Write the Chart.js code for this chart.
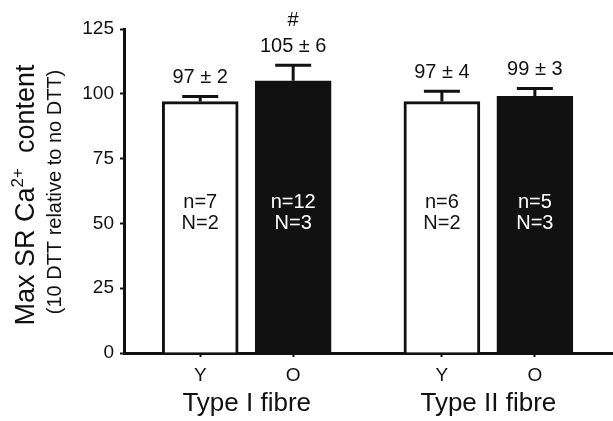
<!DOCTYPE html>
<html>
<head>
<meta charset="utf-8">
<script src="https://cdn.jsdelivr.net/npm/chart.js@4.4.1/dist/chart.umd.min.js"></script>
<style>
  body { margin: 0; background: #fff; }
</style>
</head>
<body>
<canvas id="chart" width="613" height="421"></canvas>
<script>
// --------- Valeurs -----------------------------
const barLabels = ["Y", "O", "Y", "O"];
const barPos = [0, 1, 2.6, 3.6];
const means = [97, 105, 97, 99];
const sems = [2, 6, 4, 3];
const marks = ["", "#", "", ""];
const nCells = ["n=7", "n=12", "n=6", "n=5"];
const nAnimals = ["N=2", "N=3", "N=2", "N=3"];
const groups = ["Type I fibre", "Type II fibre"];
const groupPos = [0.5, 3.1];
const yTicks = [0, 25, 50, 75, 100, 125];

const INK = "#111";
const FAMILY = "'Liberation Sans', Arial, sans-serif";
const fills = ["#ffffff", INK, "#ffffff", INK];

// --------- Barres d'erreur, textes et titres ----------
const annotations = {
    id: "annotations",
    afterDatasetsDraw(chart) {
        const ctx = chart.ctx;
        const x = chart.scales.x;
        const y = chart.scales.y;
        ctx.save();
        ctx.strokeStyle = INK;
        ctx.lineWidth = 3;
        ctx.textAlign = "center";
        ctx.textBaseline = "middle";

        barPos.forEach((p, i) => {
            const px = x.getPixelForValue(p);
            const top = y.getPixelForValue(means[i]);
            const cap = y.getPixelForValue(means[i] + sems[i]);

            ctx.beginPath();
            ctx.moveTo(px, top);
            ctx.lineTo(px, cap);
            ctx.moveTo(px - 18, cap);
            ctx.lineTo(px + 18, cap);
            ctx.stroke();

            ctx.fillStyle = INK;
            ctx.font = "20px " + FAMILY;
            ctx.fillText(means[i] + " \u00b1 " + sems[i], px, cap - 19);
            if (marks[i]) ctx.fillText(marks[i], px, cap - 45);

            const mid = y.getPixelForValue(54);
            ctx.fillStyle = fills[i] === INK ? "#ffffff" : INK;
            ctx.fillText(nCells[i], px, mid - 10.5);
            ctx.fillText(nAnimals[i], px, mid + 10.5);
        });

        ctx.fillStyle = INK;
        ctx.font = "26px " + FAMILY;
        groups.forEach((g, i) => {
            ctx.fillText(g, x.getPixelForValue(groupPos[i]), 404);
        });

        // titre de l'axe Y (deux lignes, exposant)
        ctx.save();
        ctx.translate(27, 195);
        ctx.rotate(-Math.PI / 2);
        ctx.textAlign = "left";
        const big = "27px " + FAMILY;
        const sup = "17px " + FAMILY;
        ctx.font = big;
        const w1 = ctx.measureText("Max SR Ca").width;
        const w3 = ctx.measureText("  content").width;
        ctx.font = sup;
        const w2 = ctx.measureText("2+").width;
        let cx = -(w1 + w2 + w3) / 2;
        ctx.font = big;
        ctx.fillText("Max SR Ca", cx, 0);
        cx += w1;
        ctx.font = sup;
        ctx.fillText("2+", cx, -9);
        cx += w2;
        ctx.font = big;
        ctx.fillText("  content", cx, 0);
        ctx.restore();

        ctx.save();
        ctx.translate(55, 192);
        ctx.rotate(-Math.PI / 2);
        ctx.font = "20px " + FAMILY;
        ctx.fillText("(10 DTT relative to no DTT)", 0, 0);
        ctx.restore();

        ctx.restore();
    }
};

const tickFont = { family: FAMILY, size: 19 };

new Chart(document.getElementById("chart"), {
    type: "bar",
    data: {
        datasets: [{
            data: barPos.map((p, i) => ({ x: p, y: means[i] })),
            backgroundColor: fills,
            borderColor: INK,
            borderWidth: 3,
            barThickness: 76
        }]
    },
    options: {
        responsive: false,
        animation: false,
        events: [],
        layout: { padding: { top: 29, right: 1, left: 0, bottom: 0 } },
        plugins: { legend: { display: false }, tooltip: { enabled: false } },
        scales: {
            x: {
                type: "linear",
                offset: false,
                min: -0.82,
                max: 4.43,
                grid: { offset: false, drawOnChartArea: false, drawTicks: true, tickLength: 4, tickWidth: 2, tickColor: INK },
                border: { color: INK, width: 3 },
                afterBuildTicks: s => { s.ticks = barPos.map(v => ({ value: v })); },
                ticks: {
                    callback: (v, i) => barLabels[i],
                    font: tickFont,
                    color: INK,
                    padding: 7,
                    autoSkip: false,
                    maxRotation: 0
                },
                afterFit: s => { s.height = 68; }
            },
            y: {
                min: 0,
                max: 125,
                grid: { drawOnChartArea: false, drawTicks: true, tickLength: 4, tickWidth: 2, tickColor: INK },
                border: { color: INK, width: 3 },
                afterBuildTicks: s => { s.ticks = yTicks.map(v => ({ value: v })); },
                ticks: { font: tickFont, color: INK, padding: 6 },
                afterFit: s => { s.width = 124; }
            }
        }
    },
    plugins: [annotations]
});
</script>
</body>
</html>
